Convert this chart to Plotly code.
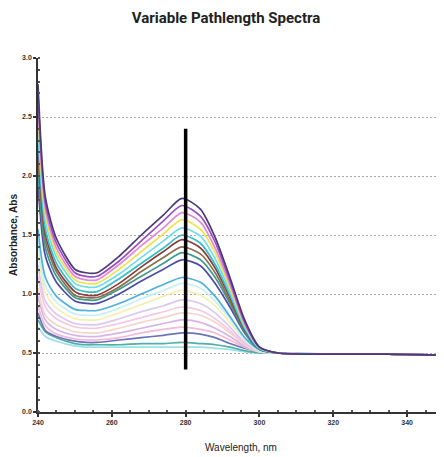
import plotly.graph_objects as go

wavelengths = [240, 242, 245, 250, 253, 256, 262, 268, 274, 279, 284, 288, 292, 296, 300, 305, 320, 335, 350]

spectrum_01 = [2.78, 1.82, 1.47, 1.21, 1.18, 1.18, 1.32, 1.50, 1.67, 1.81, 1.72, 1.48, 1.14, 0.78, 0.55, 0.50, 0.49, 0.49, 0.48]
spectrum_02 = [2.70, 1.77, 1.43, 1.18, 1.15, 1.15, 1.28, 1.45, 1.62, 1.75, 1.66, 1.44, 1.11, 0.76, 0.55, 0.50, 0.49, 0.49, 0.48]
spectrum_03 = [2.62, 1.72, 1.39, 1.15, 1.12, 1.12, 1.25, 1.41, 1.56, 1.69, 1.61, 1.39, 1.08, 0.75, 0.55, 0.50, 0.49, 0.49, 0.48]
spectrum_04 = [2.55, 1.67, 1.35, 1.12, 1.09, 1.09, 1.21, 1.36, 1.51, 1.63, 1.55, 1.35, 1.05, 0.74, 0.55, 0.50, 0.49, 0.49, 0.48]
spectrum_05 = [2.45, 1.62, 1.31, 1.09, 1.06, 1.06, 1.17, 1.31, 1.45, 1.56, 1.49, 1.30, 1.02, 0.72, 0.54, 0.50, 0.49, 0.49, 0.48]
spectrum_06 = [2.35, 1.55, 1.26, 1.05, 1.02, 1.02, 1.13, 1.26, 1.39, 1.50, 1.43, 1.25, 0.99, 0.71, 0.54, 0.50, 0.49, 0.49, 0.48]
spectrum_07 = [2.28, 1.51, 1.22, 1.02, 0.99, 0.99, 1.09, 1.23, 1.36, 1.46, 1.39, 1.22, 0.97, 0.70, 0.54, 0.50, 0.49, 0.49, 0.48]
spectrum_08 = [2.18, 1.45, 1.19, 0.99, 0.97, 0.97, 1.06, 1.19, 1.31, 1.40, 1.34, 1.18, 0.94, 0.69, 0.54, 0.50, 0.49, 0.49, 0.48]
spectrum_09 = [2.05, 1.39, 1.15, 0.97, 0.95, 0.95, 1.04, 1.15, 1.26, 1.35, 1.29, 1.14, 0.92, 0.68, 0.53, 0.50, 0.49, 0.49, 0.48]
spectrum_10 = [1.92, 1.32, 1.10, 0.94, 0.92, 0.92, 1.00, 1.11, 1.21, 1.29, 1.24, 1.09, 0.89, 0.67, 0.53, 0.50, 0.49, 0.49, 0.48]
spectrum_11 = [1.55, 1.14, 0.98, 0.87, 0.86, 0.86, 0.92, 1.00, 1.08, 1.14, 1.10, 0.98, 0.81, 0.63, 0.53, 0.50, 0.49, 0.49, 0.48]
spectrum_12 = [1.45, 1.07, 0.93, 0.83, 0.82, 0.82, 0.88, 0.96, 1.03, 1.09, 1.05, 0.94, 0.79, 0.62, 0.52, 0.50, 0.49, 0.49, 0.48]
spectrum_13 = [1.35, 1.01, 0.88, 0.79, 0.78, 0.78, 0.84, 0.91, 0.98, 1.03, 0.99, 0.90, 0.76, 0.61, 0.52, 0.50, 0.49, 0.49, 0.48]
spectrum_14 = [1.25, 0.94, 0.83, 0.75, 0.74, 0.74, 0.79, 0.85, 0.90, 0.95, 0.92, 0.84, 0.72, 0.59, 0.52, 0.50, 0.49, 0.49, 0.48]
spectrum_15 = [1.15, 0.89, 0.79, 0.72, 0.71, 0.71, 0.75, 0.80, 0.85, 0.89, 0.86, 0.79, 0.69, 0.58, 0.52, 0.50, 0.49, 0.49, 0.48]
spectrum_16 = [1.05, 0.82, 0.74, 0.68, 0.67, 0.67, 0.71, 0.76, 0.80, 0.84, 0.82, 0.76, 0.67, 0.57, 0.51, 0.50, 0.49, 0.49, 0.48]
spectrum_17 = [0.98, 0.78, 0.70, 0.65, 0.64, 0.64, 0.67, 0.71, 0.75, 0.78, 0.76, 0.71, 0.64, 0.56, 0.51, 0.50, 0.49, 0.49, 0.48]
spectrum_18 = [0.90, 0.73, 0.66, 0.62, 0.61, 0.61, 0.63, 0.67, 0.70, 0.72, 0.70, 0.67, 0.61, 0.55, 0.51, 0.50, 0.49, 0.49, 0.48]
spectrum_19 = [0.84, 0.69, 0.64, 0.60, 0.59, 0.59, 0.61, 0.63, 0.65, 0.67, 0.66, 0.63, 0.58, 0.54, 0.51, 0.50, 0.49, 0.49, 0.48]
spectrum_20 = [0.78, 0.68, 0.63, 0.58, 0.57, 0.57, 0.57, 0.58, 0.58, 0.59, 0.58, 0.57, 0.55, 0.52, 0.50, 0.50, 0.49, 0.49, 0.48]
spectrum_21 = [0.72, 0.64, 0.60, 0.56, 0.55, 0.55, 0.55, 0.55, 0.55, 0.55, 0.55, 0.54, 0.53, 0.51, 0.50, 0.50, 0.49, 0.49, 0.48]

spectra = [spectrum_01, spectrum_02, spectrum_03, spectrum_04, spectrum_05, spectrum_06, spectrum_07,
           spectrum_08, spectrum_09, spectrum_10, spectrum_11, spectrum_12, spectrum_13, spectrum_14,
           spectrum_15, spectrum_16, spectrum_17, spectrum_18, spectrum_19, spectrum_20, spectrum_21]

line_colors = ['#4a3b78', '#9b4fc0', '#e08ad8', '#f2e24a', '#6fdcea', '#30c0c8', '#8a3c3c',
               '#8b6f4e', '#3f9a90', '#4b4ba8', '#4fb0e0', '#c8f0f4', '#f6eeb0', '#d8c8f2',
               '#f4c8e4', '#f2d6c8', '#d6b4e6', '#f4b8d8', '#6a74b8', '#4fb0a8', '#9fdfe8']

marker_wavelength = 280
marker_abs_range = [0.36, 2.40]

x_tick_values = [240, 260, 280, 300, 320, 340]
x_tick_labels = ['240', '260', '280', '300', '320', '340']
y_tick_values = [0.0, 0.5, 1.0, 1.5, 2.0, 2.5, 3.0]
y_tick_labels = ['0.0', '0.5', '1.0', '1.5', '2.0', '2.5', '3.0']

fig = go.Figure()

# draw pale/lower spectra first so the darker upper ones sit on top
for values, color in reversed(list(zip(spectra, line_colors))):
    fig.add_trace(go.Scatter(
        x=wavelengths, y=values, mode='lines',
        line=dict(color=color, width=1.7, shape='spline', smoothing=0.7),
        showlegend=False, hoverinfo='skip'))

fig.add_trace(go.Scatter(
    x=[marker_wavelength, marker_wavelength], y=marker_abs_range, mode='lines',
    line=dict(color='black', width=3.5), showlegend=False, hoverinfo='skip'))

# the page body has an 8px default margin, so the figure is sized/offset to compensate
fig_w, fig_h = 436, 449
fig.update_layout(
    width=fig_w, height=fig_h,
    margin=dict(l=30, r=0, t=50, b=45, autoexpand=False),
    paper_bgcolor='white', plot_bgcolor='white',
    title=dict(text='Variable Pathlength Spectra', x=0.5, xref='container', xanchor='center',
               y=1 - 10 / fig_h, yref='container', yanchor='middle',
               font=dict(family='Liberation Sans Narrow, Roboto, Arial', size=15, color='#222',
                         weight='bold')),
    font=dict(family='Liberation Sans Narrow, Liberation Sans, Arial', color='#333'),
)

fig.update_xaxes(
    range=[240, 350], showgrid=False, zeroline=False, automargin=False,
    showline=True, linecolor='#333', linewidth=1.5,
    tickmode='array', tickvals=x_tick_values, ticktext=x_tick_labels,
    ticks='outside', ticklen=3, tickcolor='#333', tickwidth=1.5,
    minor=dict(dtick=5, ticks='inside', ticklen=2, tickcolor='#555', showgrid=False),
    tickfont=dict(size=7, color='#333', weight='bold'),
    title=dict(text='Wavelength, nm', font=dict(size=10, color='#222'), standoff=19),
)

fig.update_yaxes(
    range=[0, 3.0], showgrid=True, gridcolor='#a8a8a8', griddash='2px,2px', gridwidth=1.2,
    zeroline=False, showline=True, linecolor='#333', linewidth=1.5, automargin=False,
    tickmode='array', tickvals=y_tick_values, ticktext=y_tick_labels,
    ticks='outside', ticklen=3, tickcolor='#333', tickwidth=1.5,
    minor=dict(dtick=0.1, ticks='inside', ticklen=2, tickcolor='#555', showgrid=False),
    tickfont=dict(size=7, color='#333', weight='bold'),
    title=dict(text='Absorbance, Abs', font=dict(size=10, color='#222', weight='bold'), standoff=3),
)

fig.write_html('out.html')
